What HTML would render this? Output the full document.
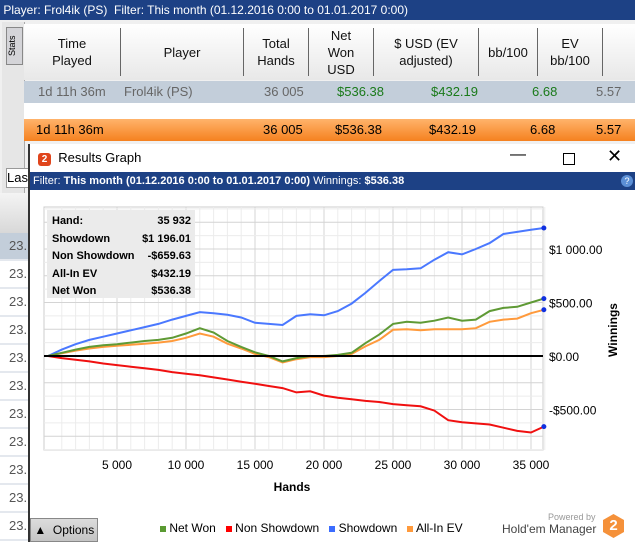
<!DOCTYPE html>
<html><head><meta charset="utf-8">
<style>
body{margin:0;width:635px;height:542px;overflow:hidden;background:#f0f0f0;font-family:"Liberation Sans",sans-serif;position:relative}
.abs{position:absolute}
.hdr{left:0;top:0;width:635px;height:20px;background:#1d4185;color:#fff;font-size:12px;line-height:20px}
.th{position:absolute;top:28px;height:48px;font-size:13px;color:#111;text-align:center;display:flex;align-items:center;justify-content:center;line-height:17px;border-right:1px solid #666}
.row1,.row2{position:absolute;left:24px;width:611px;font-size:13px}
.c{position:absolute;top:0}
</style></head><body>
<div class="abs hdr">&nbsp;Player: Frol4ik (PS) &nbsp;Filter: This month (01.12.2016 0:00 to 01.01.2017 0:00)</div>
<div class="abs" style="left:2px;top:22px;width:22px;height:460px;background:#e6e6e6;border-right:1px solid #aaa"></div>
<div class="abs" style="left:6px;top:27px;width:15px;height:36px;background:#d4d4d8;border:1px solid #888;font-size:9px;writing-mode:vertical-rl;transform:rotate(180deg);text-align:center">Stats</div>
<div class="abs" style="left:24px;top:24px;width:611px;height:56px;background:linear-gradient(#fff,#e8e8e8)">
</div>
<div class="th" style="left:24px;width:96px">Time<br>Played</div>
<div class="th" style="left:121px;width:122px">Player</div>
<div class="th" style="left:244px;width:64px">Total<br>Hands</div>
<div class="th" style="left:309px;width:64px">Net<br>Won<br>USD</div>
<div class="th" style="left:374px;width:104px">$ USD (EV<br>adjusted)</div>
<div class="th" style="left:479px;width:58px">bb/100</div>
<div class="th" style="left:538px;width:64px">EV<br>bb/100</div>
<div class="row1" style="top:81px;height:22px;background:#c3ceda;color:#666;line-height:22px">
<span class="c" style="left:14px">1d 11h 36m</span><span class="c" style="left:100px">Frol4ik (PS)</span><span class="c" style="left:240px">36 005</span><span class="c" style="left:313px;color:#1a7a1a">$536.38</span><span class="c" style="left:407px;color:#1a7a1a">$432.19</span><span class="c" style="left:508px;color:#1a7a1a">6.68</span><span class="c" style="left:572px">5.57</span></div>
<div class="abs" style="left:24px;top:103px;width:611px;height:16px;background:#fff"></div>
<div class="row2" style="top:119px;height:22px;background:linear-gradient(#ffb36b,#f5811f);color:#000;line-height:22px">
<span class="c" style="left:12px">1d 11h 36m</span><span class="c" style="left:239px">36 005</span><span class="c" style="left:311px">$536.38</span><span class="c" style="left:405px">$432.19</span><span class="c" style="left:506px">6.68</span><span class="c" style="left:572px">5.57</span></div>
<div class="abs" style="left:6px;top:168px;width:30px;height:18px;background:#fff;border:1px solid #999;font-size:13px;line-height:18px">Las</div>
<div class="abs" style="left:0;top:193px;width:28px;height:40px;background:linear-gradient(#f4f4f4,#d8d8d8)"></div>
<div class="abs" id="rows" style="left:0;top:233px;width:28px;height:309px;background:#fff"></div>
<div class="abs" style="left:28px;top:144px;width:607px;height:398px;background:#fff;border-left:2px solid #333">
 <div class="abs" style="left:8px;top:6px;font-size:13px"><span style="display:inline-block;width:13px;height:13px;border-radius:3px;background:#e0451c;color:#fff;font-size:10px;text-align:center;line-height:13px;font-weight:bold">2</span>&nbsp; Results Graph</div>
 <div class="abs" style="left:480px;top:2px;font-size:16px">&#8212;</div>
 <div class="abs" style="left:533px;top:9px;width:10px;height:10px;border:1px solid #000"></div>
 <div class="abs" style="left:577px;top:2px;font-size:18px">&#10005;</div>
 <div class="abs" style="left:0;top:28px;width:607px;height:18px;background:#1d4185;color:#fff;font-size:11px;line-height:18px">&nbsp;Filter: <b>This month (01.12.2016 0:00 to 01.01.2017 0:00)</b> Winnings: <b>$536.38</b><span style="position:absolute;right:4px;top:3px;width:12px;height:12px;border-radius:6px;background:#5b8fd6;font-size:9px;text-align:center;line-height:12px">?</span></div>
</div>
<svg class="abs" style="left:0;top:0" width="635" height="542" id="chart"></svg>
<div class="abs" style="left:47px;top:210px;width:148px;height:88px;background:#ebebeb;font-size:11px;font-weight:bold;line-height:17.5px;overflow:hidden">
<div style="position:absolute;left:5px;top:3px;white-space:nowrap">Hand:<br>Showdown<br>Non Showdown<br>All-In EV<br>Net Won</div>
<div style="position:absolute;right:4px;top:3px;text-align:right;background:#ebebeb;padding-left:3px">35 932<br>$1 196.01<br>-$659.63<br>$432.19<br>$536.38</div></div>
<div class="abs" style="left:30px;top:518px;width:66px;height:22px;background:linear-gradient(#dcdcdc,#c4c4c4);border:1px solid #888;font-size:12px;line-height:22px">&nbsp;&#9650;&nbsp; Options</div>
<div class="abs" style="left:160px;top:521px;font-size:12px;white-space:nowrap">
<span><span style="display:inline-block;width:6px;height:6px;background:#5a9a32"></span> Net Won</span>&nbsp;&nbsp;
<span><span style="display:inline-block;width:6px;height:6px;background:#f00"></span> Non Showdown</span>&nbsp;&nbsp;
<span><span style="display:inline-block;width:6px;height:6px;background:#3b6cff"></span> Showdown</span>&nbsp;&nbsp;
<span><span style="display:inline-block;width:6px;height:6px;background:#ff9a3c"></span> All-In EV</span></div>
<div class="abs" style="left:548px;top:512px;font-size:9px;color:#999">Powered by</div>
<div class="abs" style="left:502px;top:522px;font-size:12px;color:#444">Hold'em Manager</div>
<div class="abs" style="left:603px;top:514px;width:21px;height:24px;background:#f5913a;clip-path:polygon(50% 0,100% 25%,100% 75%,50% 100%,0 75%,0 25%);color:#fff;font-weight:bold;font-size:15px;text-align:center;line-height:24px">2</div>
<script>
const hands=[0,1000,2000,3000,4000,5000,6000,7000,8000,9000,10000,11000,12000,13000,14000,15000,16000,17000,18000,19000,20000,21000,22000,23000,24000,25000,26000,27000,28000,29000,30000,31000,32000,33000,34000,35000,35932];
const showdown=[0,60,110,150,180,210,240,270,300,340,375,410,400,385,360,310,300,290,375,390,380,420,490,590,700,805,810,820,900,970,950,1000,1055,1140,1160,1180,1196];
const netWon=[0,30,60,85,100,110,125,140,150,170,210,260,220,140,85,35,0,-50,-20,0,0,10,30,120,200,300,320,310,330,360,330,340,420,450,460,500,536];
const allInEV=[0,25,50,70,85,95,105,115,125,140,170,210,180,115,70,20,-10,-60,-30,-10,-10,0,20,90,150,245,250,240,250,250,250,260,320,340,350,400,432];
const nonShowdown=[0,-20,-35,-50,-70,-85,-100,-115,-130,-150,-165,-180,-200,-220,-240,-260,-280,-300,-340,-330,-370,-390,-405,-420,-430,-450,-460,-470,-510,-600,-620,-630,-640,-670,-700,-715,-660];
const xTicks=[5000,10000,15000,20000,25000,30000,35000];
const xTickLabels=["5 000","10 000","15 000","20 000","25 000","30 000","35 000"];
const yTicks=[-500,0,500,1000];
const yTickLabels=["-$500.00","$0.00","$500.00","$1 000.00"];
const NS="http://www.w3.org/2000/svg";
const svg=document.getElementById('chart');
const L=44,R=543,T=207,B=450;
const X=h=>48+h*0.0138;
const Y=v=>356-v*0.107;
function mk(t,a,p){const e=document.createElementNS(NS,t);for(const k in a)e.setAttribute(k,a[k]);(p||svg).appendChild(e);return e;}
mk('rect',{x:L,y:T,width:R-L,height:B-T,fill:'#fff',stroke:'#ccc'});
for(let h=1000;h<=36000;h+=1000){mk('line',{x1:X(h),x2:X(h),y1:T,y2:B,stroke:h%5000?'#ececec':'#d4d4d4'});}
for(let v=-875;v<=1375;v+=125){const y=Y(v);if(y<T||y>B)continue;mk('line',{x1:L,x2:R,y1:y,y2:y,stroke:v%250?'#ececec':'#d4d4d4'});}
xTicks.forEach((h,i)=>{const t=mk('text',{x:X(h),y:469,'text-anchor':'middle','font-size':12,'font-family':'Liberation Sans'});t.textContent=xTickLabels[i];

});
yTicks.forEach((v,i)=>{const t=mk('text',{x:549,y:Y(v)+5,'font-size':12,'font-family':'Liberation Sans'});t.textContent=yTickLabels[i];

});
const xt=mk('text',{x:292,y:491,'text-anchor':'middle','font-size':12,'font-weight':'bold','font-family':'Liberation Sans'});xt.textContent='Hands';


const yt=mk('text',{x:0,y:0,'text-anchor':'middle','font-size':12,'font-weight':'bold','font-family':'Liberation Sans',transform:'translate(617,330) rotate(-90)'});yt.textContent='Winnings';


function series(vals,color,name){
 const d=vals.map((v,i)=>(i?'L':'M')+X(hands[i]).toFixed(1)+','+Y(v).toFixed(1)).join(' ');
 const p=mk('path',{d:d,fill:'none',stroke:color,'stroke-width':2});
 
 
 const n=vals.length-1;
 const c=mk('circle',{cx:X(hands[n]),cy:Y(vals[n]),r:2.5,fill:'#1030e0'});
 
 
}
series(showdown,'#4a78ff','showdown-line');
series(allInEV,'#ff9a3c','all-in-ev-line');
series(netWon,'#5f9a35','net-won-line');
series(nonShowdown,'#f01010','non-showdown-line');
mk('line',{x1:L,x2:R,y1:Y(0),y2:Y(0),stroke:'#000','stroke-width':2});
const rows=document.getElementById('rows');
for(let i=0;i<11;i++){const d=document.createElement('div');d.style.cssText='height:26px;border-bottom:2px solid #e4e8ee;font-size:13px;color:#555;padding-left:9px;line-height:26px;'+(i==0?'background:#c3ceda':'');d.textContent='23.';


rows.appendChild(d);}
</script>
</body></html>
